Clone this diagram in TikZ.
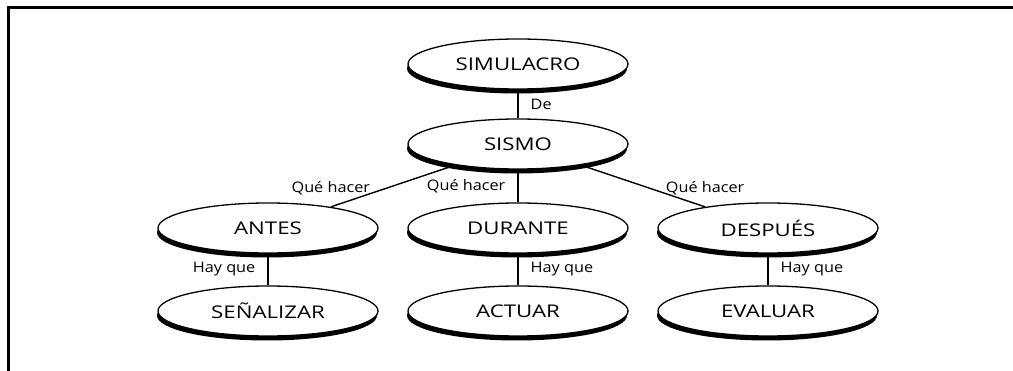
\documentclass[tikz,border=0pt]{standalone}
\usepackage{fontspec}
\setmainfont{Open Sans}
\usetikzlibrary{shapes.geometric,shadows}
\newcommand{\wide}[2][1.27]{\scalebox{#1}[1]{#2}}

\begin{document}
\begin{tikzpicture}[x=1pt,y=-1pt,
    idea/.style={ellipse,draw,line width=1.3pt,fill=white,
      minimum width=220pt,minimum height=50pt,inner sep=0pt,
      drop shadow={shadow xshift=-1pt,shadow yshift=-4.5pt,fill=black,opacity=1},
      font=\fontsize{17.5}{20}\selectfont},
    link/.style={line width=1.4pt},
    lbl/.style={font=\fontsize{14.5}{17}\selectfont,inner sep=3pt}]
  \useasboundingbox (0,0) rectangle (1013,371);
  % frame
  \draw[line width=3pt] (1013,8) -- (8,8) -- (8,371);

  \node[idea] (simulacro) at (518,64) {\wide{SIMULACRO}};
  \node[idea] (sismo) at (518,144) {\wide{SISMO}};

  \node[idea] (antes) at (268,228) {\wide{ANTES}};
  \node[idea] (durante) at (518,228) {\wide{DURANTE}};
  \node[idea] (despues) at (768,228) {\wide{DESPUÉS}};

  \node[idea] (senalizar) at (268,311) {\wide{SEÑALIZAR}};
  \node[idea] (actuar) at (518,311) {\wide{ACTUAR}};
  \node[idea] (evaluar) at (768,311) {\wide{EVALUAR}};

  \draw[link] (simulacro) -- node[lbl,right=9pt] {\wide[1.12]{De}} (sismo);
  \draw[link] (sismo) -- node[lbl,pos=1,above=8pt] {\wide[1.12]{Qué hacer}} (antes);
  \draw[link] (sismo) -- node[lbl,left=9pt] {\wide[1.12]{Qué hacer}} (durante);
  \draw[link] (sismo) -- node[lbl,pos=1,above=8pt] {\wide[1.12]{Qué hacer}} (despues);

  \draw[link] (antes) -- node[lbl,left=9pt] {\wide[1.12]{Hay que}} (senalizar);
  \draw[link] (durante) -- node[lbl,right=9pt] {\wide[1.12]{Hay que}} (actuar);
  \draw[link] (despues) -- node[lbl,right=9pt] {\wide[1.12]{Hay que}} (evaluar);
\end{tikzpicture}
\end{document}
